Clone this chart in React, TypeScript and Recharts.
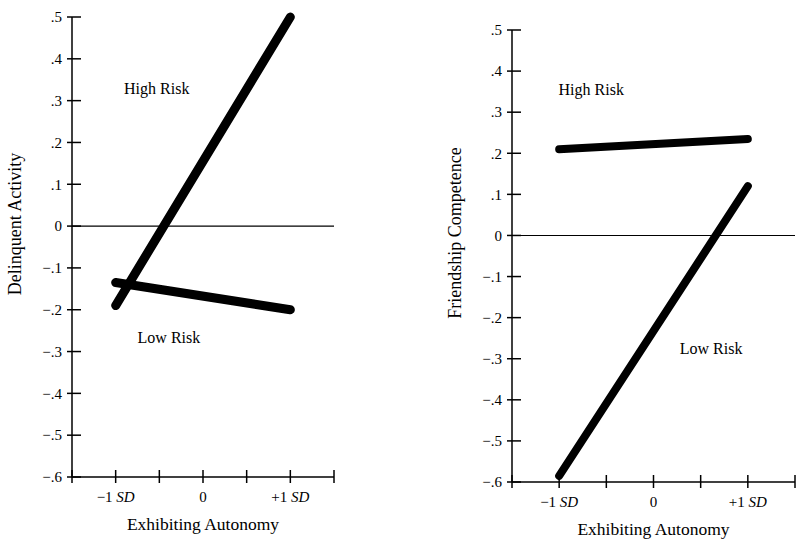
import { LineChart, Line, XAxis, YAxis, ReferenceLine, ReferenceDot, Label } from 'recharts';

const xPoints = [-1, 1];
const delinquentHigh = [-0.19, 0.5];
const delinquentLow = [-0.135, -0.2];
const friendshipHigh = [0.21, 0.235];
const friendshipLow = [-0.585, 0.12];

const xTicks = [-1.5, -1, -0.5, 0, 0.5, 1, 1.5];
const yTicks = [-0.6, -0.5, -0.4, -0.3, -0.2, -0.1, 0, 0.1, 0.2, 0.3, 0.4, 0.5];
const xTickLabels: Record<string, [string, string]> = {
  '-1': ['−1 ', 'SD'],
  '0': ['0', ''],
  '1': ['+1 ', 'SD'],
};

const font = '"Liberation Serif", "Times New Roman", serif';

const toRows = (high: number[], low: number[]) =>
  xPoints.map((x, i) => ({ x, high: high[i], low: low[i] }));

const delinquentData = toRows(delinquentHigh, delinquentLow);
const friendshipData = toRows(friendshipHigh, friendshipLow);

function fmtY(v: number) {
  if (Math.abs(v) < 1e-9) return '0';
  const s = Math.abs(v).toFixed(1).replace(/^0/, '');
  return (v < 0 ? '−' : '') + s;
}

function YTick(props: any) {
  const { x, y, payload } = props;
  return (
    <g>
      <line x1={x - 5} x2={x + 9} y1={y} y2={y} stroke="#000" strokeWidth={1.5} />
      <text x={x - 10} y={y} dy="0.35em" textAnchor="end" fontSize={15} fontFamily={font} fill="#000">
        {fmtY(payload.value)}
      </text>
    </g>
  );
}

function XTick(props: any) {
  const { x, y, payload } = props;
  const lab = xTickLabels[String(payload.value)];
  return (
    <g>
      <line x1={x} x2={x} y1={y - 7} y2={y + 6} stroke="#000" strokeWidth={1.5} />
      {lab && (
        <text x={x} y={y + 25} textAnchor="middle" fontSize={15} fontFamily={font} fill="#000">
          {lab[0]}
          {lab[1] && <tspan fontStyle="italic">{lab[1]}</tspan>}
        </text>
      )}
    </g>
  );
}

function Panel({ data, yLabel, margin, highPos, lowPos, width }: any) {
  return (
    <LineChart width={400} height={547} data={data} margin={margin}>
      <XAxis
        dataKey="x"
        type="number"
        domain={[-1.5, 1.5]}
        ticks={xTicks}
        interval={0}
        tickLine={false}
        tickSize={0}
        tickMargin={0}
        tick={XTick}
        axisLine={{ stroke: '#000', strokeWidth: 1.5 }}
        height={30}
      >
        <Label
          content={(p: any) => {
            const vb = p.viewBox;
            return (
              <text x={vb.x + vb.width / 2} y={vb.y + 53} textAnchor="middle" fontSize={17.5} fontFamily={font} fill="#000">
                Exhibiting Autonomy
              </text>
            );
          }}
        />
      </XAxis>
      <YAxis
        type="number"
        domain={[-0.6, 0.5]}
        ticks={yTicks}
        interval={0}
        tickLine={false}
        tickSize={0}
        tickMargin={0}
        tick={YTick}
        axisLine={{ stroke: '#000', strokeWidth: 1.5 }}
        width={60}
      >
        <Label
          content={(p: any) => {
            const vb = p.viewBox;
            const cx = vb.x + vb.width - 57;
            const cy = vb.y + vb.height / 2 - 23;
            return (
              <text
                x={cx}
                y={cy}
                transform={`rotate(-90 ${cx} ${cy})`}
                textAnchor="middle"
                dominantBaseline="central"
                fontSize={18}
                fontFamily={font}
                fill="#000"
              >
                {yLabel}
              </text>
            );
          }}
        />
      </YAxis>
      <ReferenceLine y={0} stroke="#000" strokeWidth={1.1} />
      <Line dataKey="high" stroke="#000" strokeWidth={width} strokeLinecap="round" dot={false} isAnimationActive={false} />
      <Line dataKey="low" stroke="#000" strokeWidth={width} strokeLinecap="round" dot={false} isAnimationActive={false} />
      <ReferenceDot
        x={highPos[0]}
        y={highPos[1]}
        r={0}
        fill="none"
        stroke="none"
        label={{ value: 'High Risk', position: 'center', fontSize: 16, fontFamily: font, fill: '#000' }}
      />
      <ReferenceDot
        x={lowPos[0]}
        y={lowPos[1]}
        r={0}
        fill="none"
        stroke="none"
        label={{ value: 'Low Risk', position: 'center', fontSize: 16, fontFamily: font, fill: '#000' }}
      />
    </LineChart>
  );
}

export default function App() {
  return (
    <div style={{ position: 'absolute', left: 0, top: 0, width: 800, height: 547, background: '#fff' }}>
      <div style={{ position: 'absolute', left: 0, top: 0 }}>
        <Panel
          data={delinquentData}
          yLabel="Delinquent Activity"
          margin={{ top: 17, right: 66, bottom: 40, left: 12 }}
          highPos={[-0.53, 0.33]}
          lowPos={[-0.39, -0.265]}
          width={9}
        />
      </div>
      <div style={{ position: 'absolute', left: 400, top: 0 }}>
        <Panel
          data={friendshipData}
          yLabel="Friendship Competence"
          margin={{ top: 30, right: 5, bottom: 35, left: 52 }}
          highPos={[-0.66, 0.356]}
          lowPos={[0.61, -0.274]}
          width={8}
        />
      </div>
    </div>
  );
}
